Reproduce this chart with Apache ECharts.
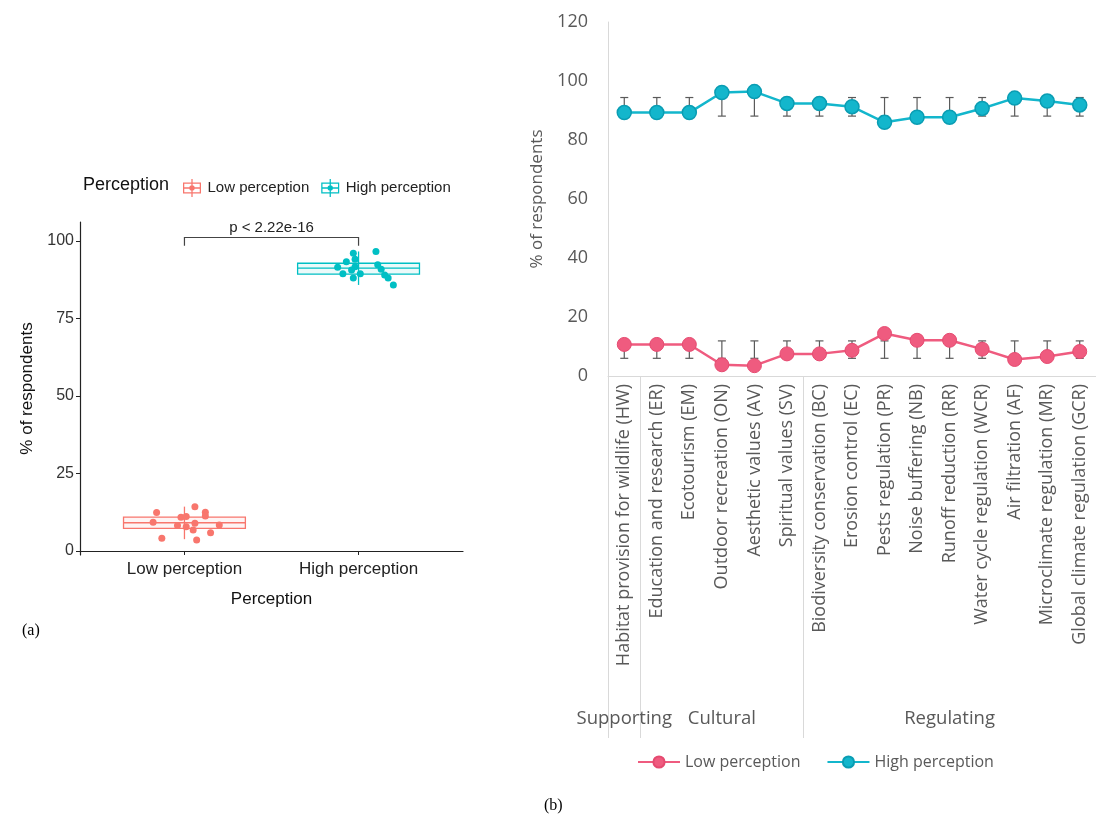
<!DOCTYPE html>
<html>
<head>
<meta charset="utf-8">
<script src="https://cdn.jsdelivr.net/npm/echarts@6/dist/echarts.min.js"></script>
<style>
  html, body { margin: 0; padding: 0; background: #fff; }
  #wrap { position: relative; width: 1096px; height: 816px; }
  #panelA { position: absolute; left: 0; top: 0; width: 480px; height: 816px; }
  #panelB { position: absolute; left: 480px; top: 0; width: 616px; height: 816px; }
</style>
</head>
<body>
<div id="wrap">
  <div id="panelA"></div>
  <div id="panelB"></div>
</div>
<script>
// ---- panel (a): box plot of % of respondents per perception class ----
const boxCats = ["Low perception", "High perception"];
// [min, Q1, median, Q3, max]
const lowBox = [3.8, 7.3, 9.1, 10.9, 14.3];
const highBox = [85.8, 89.3, 91.2, 92.8, 96.6];
// jittered points (x in category units, 1 = low, 2 = high)
const lowJitterX = [0.84, 0.82, 0.87, 0.98, 1.01, 0.96, 1.01, 1.06, 1.06, 1.05, 1.07, 1.12, 1.12, 1.15, 1.2];
const lowJitterY = [12.4, 9.3, 4.1, 10.9, 11.1, 8.2, 7.8, 14.3, 8.9, 6.8, 3.5, 12.5, 11.3, 5.9, 8.4];
const highJitterX = [1.97, 2.1, 1.98, 1.93, 1.88, 1.91, 1.98, 1.97, 2.01, 2.11, 2.15, 2.17, 2.2, 1.96, 2.13];
const highJitterY = [96.0, 96.6, 94.1, 93.3, 91.5, 89.4, 91.7, 88.0, 89.4, 92.3, 89.0, 88.0, 85.8, 90.6, 90.9];
// comparison bracket: [x from, x to, top, tick bottom]
const bracket = [1, 2, 101.1, 98.4];
const pLabel = "p < 2.22e-16";
const yTicksA = [0, 25, 50, 75, 100];

// ---- panel (b): % of respondents per ecosystem service ----
const services = [
  "Habitat provision for wildlife (HW)", "Education and research (ER)", "Ecotourism (EM)",
  "Outdoor recreation (ON)", "Aesthetic values (AV)", "Spiritual values (SV)",
  "Biodiversity conservation (BC)", "Erosion control (EC)", "Pests regulation (PR)",
  "Noise buffering (NB)", "Runoff reduction (RR)", "Water cycle regulation (WCR)",
  "Air filtration (AF)", "Microclimate regulation (MR)", "Global climate regulation (GCR)"
];
const groupNames = ["Supporting", "Cultural", "Regulating"];
const groupSizes = [1, 5, 9];
const lowValues = [10.7, 10.7, 10.7, 3.8, 3.5, 7.5, 7.5, 8.7, 14.4, 12.1, 12.1, 9.1, 5.6, 6.6, 8.3];
const highValues = [89.3, 89.3, 89.3, 96.1, 96.4, 92.4, 92.4, 91.3, 86.0, 87.7, 87.7, 90.7, 94.2, 93.2, 91.9];
const lowErrLo = [6.0, 6.0, 6.0, 6.0, 6.0, 6.0, 6.0, 6.0, 6.0, 6.0, 6.0, 6.0, 6.0, 6.0, 6.0];
const lowErrHi = [11.9, 11.9, 11.9, 11.9, 11.9, 11.9, 11.9, 11.9, 11.9, 11.9, 11.9, 11.9, 11.9, 11.9, 11.9];
const highErrLo = [88.1, 88.1, 88.1, 88.1, 88.1, 88.1, 88.1, 88.1, 88.1, 88.1, 88.1, 88.1, 88.1, 88.1, 88.1];
const highErrHi = [94.4, 94.4, 94.4, 94.4, 94.4, 94.4, 94.4, 94.4, 94.4, 94.4, 94.4, 94.4, 94.4, 94.4, 94.4];

const LOW_A = "#F8766D", HIGH_A = "#00BFC4";
const LOW_B = "#EF5B7F", HIGH_B = "#13B6CC";
const FONT_A = "Liberation Sans";
const FONT_B = "Open Sans";

// box key icon: whisker, hollow box, median line, dot
const boxIcon = "path://M9.3,0L10.7,0L10.7,20L9.3,20Z" +
  "M0,4L20,4L20,16L0,16Z M1.4,5.4L1.4,14.6L18.6,14.6L18.6,5.4Z" +
  "M0,9.3L20,9.3L20,10.7L0,10.7Z" +
  "M13,10A3,3,0,1,1,7,10A3,3,0,1,1,13,10Z";

function boxItem(params, api) {
  const x = api.value(0);
  const w = api.size([0.7, 0])[0];
  const c = api.coord([x, api.value(3)]);
  const yMin = api.coord([x, api.value(1)])[1];
  const yQ1 = api.coord([x, api.value(2)])[1];
  const yQ3 = api.coord([x, api.value(4)])[1];
  const yMax = api.coord([x, api.value(5)])[1];
  const color = api.visual("color");
  const st = { stroke: color, lineWidth: 1.3, fill: null };
  return {
    type: "group",
    children: [
      { type: "line", shape: { x1: c[0], y1: yMin, x2: c[0], y2: yMax }, style: st },
      { type: "rect", shape: { x: c[0] - w / 2, y: yQ3, width: w, height: yQ1 - yQ3 },
        style: { stroke: color, lineWidth: 1.3, fill: echarts.color.modifyAlpha(color, 0.08) } },
      { type: "line", shape: { x1: c[0] - w / 2, y1: c[1], x2: c[0] + w / 2, y2: c[1] }, style: st }
    ]
  };
}

function bracketItem(params, api) {
  const a = api.coord([api.value(0), api.value(3)]);
  const b = api.coord([api.value(0), api.value(2)]);
  const c = api.coord([api.value(1), api.value(2)]);
  const d = api.coord([api.value(1), api.value(3)]);
  return {
    type: "group",
    children: [
      { type: "polyline", shape: { points: [a, b, c, d] }, style: { stroke: "#444", lineWidth: 1.2, fill: null } },
      { type: "text", x: (b[0] + c[0]) / 2, y: b[1] - 2,
        style: { text: pLabel, fill: "#222", font: "15px " + FONT_A, textAlign: "center", textVerticalAlign: "bottom" } }
    ]
  };
}

const chartA = echarts.init(document.getElementById("panelA"), null, { renderer: "canvas" });
chartA.setOption({
  animation: false,
  title: [
    { text: "Perception", left: 78, top: 171, textStyle: { fontFamily: FONT_A, fontSize: 18, fontWeight: "normal", color: "#111" } },
    { text: "(a)", left: 17, top: 618, textStyle: { fontFamily: "Liberation Serif", fontSize: 16, fontWeight: "normal", color: "#000" } }
  ],
  legend: {
    left: 178, top: 174, itemWidth: 21, itemHeight: 18, itemGap: 12,
    textStyle: { fontFamily: FONT_A, fontSize: 15, color: "#222" },
    data: [
      { name: boxCats[0], icon: boxIcon, itemStyle: { color: LOW_A } },
      { name: boxCats[1], icon: boxIcon, itemStyle: { color: HIGH_A } }
    ],
    selectedMode: false
  },
  grid: { left: 80, top: 222, width: 383, height: 333 },
  xAxis: {
    type: "value", min: 0.4, max: 2.6,
    name: "Perception", nameLocation: "middle", nameGap: 36,
    nameTextStyle: { fontFamily: FONT_A, fontSize: 17, color: "#111" },
    axisLine: { show: true, lineStyle: { color: "#222", width: 1.2 } },
    axisTick: { show: true, customValues: [1, 2], length: 4, lineStyle: { color: "#222" } },
    axisLabel: { customValues: [1, 2], formatter: v => boxCats[Math.round(v) - 1],
      fontFamily: FONT_A, fontSize: 17, color: "#222", margin: 6 },
    splitLine: { show: false }
  },
  yAxis: {
    type: "value", min: -1.3, max: 106.1,
    name: "% of respondents", nameLocation: "middle", nameGap: 44,
    nameTextStyle: { fontFamily: FONT_A, fontSize: 17, color: "#111" },
    axisLine: { show: true, lineStyle: { color: "#222", width: 1.2 } },
    axisTick: { show: true, customValues: yTicksA, length: 4, lineStyle: { color: "#222" } },
    axisLabel: { customValues: yTicksA, fontFamily: FONT_A, fontSize: 16, color: "#333", margin: 6 },
    splitLine: { show: false }
  },
  series: [
    { name: boxCats[0], type: "custom", renderItem: boxItem, itemStyle: { color: LOW_A },
      encode: { x: 0, y: [1, 2, 3, 4, 5] }, data: [[1].concat(lowBox)], z: 2 },
    { name: boxCats[1], type: "custom", renderItem: boxItem, itemStyle: { color: HIGH_A },
      encode: { x: 0, y: [1, 2, 3, 4, 5] }, data: [[2].concat(highBox)], z: 2 },
    { name: boxCats[0], type: "scatter", symbolSize: 7, itemStyle: { color: LOW_A, opacity: 1 },
      data: lowJitterX.map((x, i) => [x, lowJitterY[i]]), z: 3 },
    { name: boxCats[1], type: "scatter", symbolSize: 7, itemStyle: { color: HIGH_A, opacity: 1 },
      data: highJitterX.map((x, i) => [x, highJitterY[i]]), z: 3 },
    { name: "bracket", type: "custom", renderItem: bracketItem,
      encode: { x: [0, 1], y: [2, 3] }, data: [bracket], z: 4 }
  ]
});

// ---- panel (b) ----
function errorBarItem(params, api) {
  const x = api.value(0);
  const lo = api.coord([x, api.value(1)]);
  const hi = api.coord([x, api.value(2)]);
  const cap = 4;
  const st = { stroke: "#5a5a5a", lineWidth: 1.2 };
  return {
    type: "group",
    children: [
      { type: "line", shape: { x1: lo[0], y1: lo[1], x2: hi[0], y2: hi[1] }, style: st },
      { type: "line", shape: { x1: lo[0] - cap, y1: lo[1], x2: lo[0] + cap, y2: lo[1] }, style: st },
      { type: "line", shape: { x1: hi[0] - cap, y1: hi[1], x2: hi[0] + cap, y2: hi[1] }, style: st }
    ]
  };
}

// group separator positions (category index where a group starts) and group label slots
const groupStarts = [];
const groupSlots = services.map(() => "");
let start = 0;
groupSizes.forEach((n, g) => {
  groupStarts.push(start);
  groupSlots[start + Math.floor((n - 1) / 2)] = groupNames[g];
  start += n;
});

const chartB = echarts.init(document.getElementById("panelB"), null, { renderer: "canvas" });
chartB.setOption({
  animation: false,
  title: { text: "(b)", left: 59, top: 793, textStyle: { fontFamily: "Liberation Serif", fontSize: 16, fontWeight: "normal", color: "#000" } },
  legend: {
    left: 152, top: 749, itemWidth: 42, itemHeight: 14, itemGap: 26,
    textStyle: { fontFamily: FONT_B, fontSize: 16, color: "#595959" },
    data: ["Low perception", "High perception"],
    selectedMode: false
  },
  grid: { left: 128, top: 22, width: 495, height: 354 },
  xAxis: [
    {
      type: "category", data: services, boundaryGap: true,
      axisLine: { show: true, lineStyle: { color: "#d9d9d9", width: 1 } },
      axisTick: { show: true, length: 362, interval: i => groupStarts.includes(i), lineStyle: { color: "#d9d9d9", width: 1 } },
      axisLabel: { interval: 0, rotate: 90, margin: 8, fontFamily: FONT_B, fontSize: 18, color: "#595959" },
      splitLine: { show: false }
    },
    {
      type: "category", data: groupSlots, position: "bottom", offset: 325,
      axisLine: { show: false }, axisTick: { show: false },
      axisLabel: { interval: 0, fontFamily: FONT_B, fontSize: 18.5, color: "#595959" },
      splitLine: { show: false }
    }
  ],
  yAxis: {
    type: "value", min: 0, max: 120, interval: 20,
    name: "% of respondents", nameLocation: "middle", nameGap: 62,
    nameTextStyle: { fontFamily: FONT_B, fontSize: 17, color: "#595959" },
    axisLine: { show: true, lineStyle: { color: "#d9d9d9", width: 1 } },
    axisTick: { show: false },
    axisLabel: { fontFamily: FONT_B, fontSize: 18, color: "#595959", margin: 20 },
    splitLine: { show: false }
  },
  series: [
    { name: "low err", type: "custom", renderItem: errorBarItem, encode: { x: 0, y: [1, 2] },
      data: services.map((s, i) => [i, lowErrLo[i], lowErrHi[i]]), z: 1 },
    { name: "high err", type: "custom", renderItem: errorBarItem, encode: { x: 0, y: [1, 2] },
      data: services.map((s, i) => [i, highErrLo[i], highErrHi[i]]), z: 1 },
    { name: "Low perception", type: "line", data: lowValues, symbol: "circle", symbolSize: 14,
      lineStyle: { color: LOW_B, width: 2.5 }, itemStyle: { color: LOW_B, borderColor: "#e54a70", borderWidth: 1 }, z: 3 },
    { name: "High perception", type: "line", data: highValues, symbol: "circle", symbolSize: 14,
      lineStyle: { color: HIGH_B, width: 2.5 }, itemStyle: { color: HIGH_B, borderColor: "#0a9db3", borderWidth: 1.5 }, z: 3 }
  ]
});
</script>
</body>
</html>
